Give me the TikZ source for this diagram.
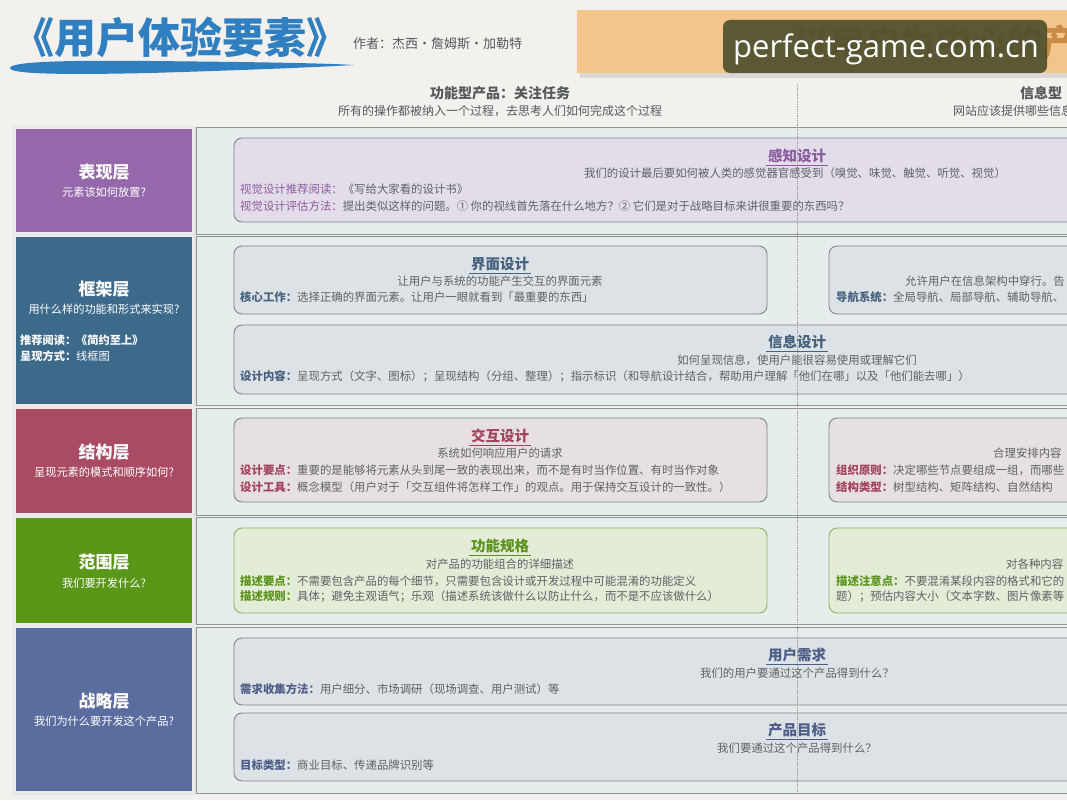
\documentclass[tikz,border=0pt]{standalone}
\usepackage{fontspec}
\setmainfont{Noto Sans CJK SC}
\newfontfamily\wmfont{Open Sans}
\newcommand{\myfs}[1]{\fontsize{#1}{#1}\selectfont}
\definecolor{bg}{HTML}{F3F1EE}
\definecolor{ttlblue}{HTML}{2F7FC1}
\definecolor{banner}{HTML}{F1C58B}
\definecolor{bannertxt}{HTML}{C98B45}
\definecolor{wm}{HTML}{4A4E2B}
\definecolor{cPur}{HTML}{9567AB}
\definecolor{cSteel}{HTML}{3D6A8B}
\definecolor{cRasp}{HTML}{A84B63}
\definecolor{cGreen}{HTML}{5A9618}
\definecolor{cSlate}{HTML}{5B6D9F}
\definecolor{band}{HTML}{E5EDED}
\definecolor{bandline}{HTML}{8C9494}
\definecolor{pPur}{HTML}{E3DDEA}
\definecolor{pGray}{HTML}{DDE2E6}
\definecolor{pPink}{HTML}{E7E0E3}
\definecolor{pGreen}{HTML}{E3ECD6}
\definecolor{txt}{HTML}{5E6266}
\definecolor{panelline}{HTML}{7D8486}
\definecolor{tPur}{HTML}{8A5C9E}
\definecolor{tSteel}{HTML}{46627F}
\definecolor{tRasp}{HTML}{A2435C}
\definecolor{tGreen}{HTML}{5A931C}
\definecolor{tSlate}{HTML}{4E5E88}
\definecolor{hdr}{HTML}{55595C}
\tikzset{
  layerbox/.style={draw=white!85!gray, line width=1.5pt},
  layername/.style={text=white, font=\myfs{17}\bfseries, inner sep=0pt},
  layersub/.style={text=white, font=\myfs{11.2}, inner sep=0pt},
  bandbox/.style={fill=band, draw=bandline, line width=1pt},
  panel/.style={draw=panelline, line width=0.9pt, rounded corners=8pt},
  ptitle/.style={font=\myfs{14.5}\bfseries, inner sep=1.8pt},
  pline/.style={anchor=west, font=\myfs{11.4}, text=txt, inner sep=0pt},
  pcenter/.style={font=\myfs{11.4}, text=txt, inner sep=0pt},
}
\begin{document}
\begin{tikzpicture}[x=1pt,y=-1pt]
\useasboundingbox (0,0) rectangle (1067,800);
\clip (0,0) rectangle (1067,800);
\fill[bg] (0,0) rectangle (1067,800);

% title
\node[anchor=west, text=ttlblue, font=\myfs{42}\bfseries, inner sep=0pt] (title) at (12,37) {《用户体验要素》};
\node[anchor=west, text=hdr, font=\myfs{13}, inner sep=0pt] (author) at (353,44) {作者：杰西·詹姆斯·加勒特};
\fill[ttlblue] (10,68) .. controls (10,62) and (60,60) .. (150,61) .. controls (250,62) and (320,63) .. (354,65) .. controls (320,67) and (250,70) .. (150,73) .. controls (60,75) and (10,74) .. (10,68) -- cycle;

% banner
\fill[black, opacity=0.10] (580,14) rectangle (1067,78);
\fill[banner] (577,10) rectangle (1067,73);
\node[anchor=west, text=bannertxt, font=\myfs{35.5}\bfseries, inner sep=0pt] (bantxt) at (794,42) {以用户为中心的产};
\fill[wm, opacity=0.9, rounded corners=7pt] (723,20) rectangle (1047,73);
\node[text=white, font=\wmfont\myfs{31}, inner sep=0pt] (wmtxt) at (886,49) {perfect-game.com.cn};

% header
\node[text=hdr, font=\myfs{14}\bfseries, inner sep=0pt] (h1) at (500,93) {功能型产品：关注任务};
\node[text=hdr, font=\myfs{12}, inner sep=0pt] (h1s) at (500,111) {所有的操作都被纳入一个过程，去思考人们如何完成这个过程};
\node[anchor=west, text=hdr, font=\myfs{14}\bfseries, inner sep=0pt] (h2) at (1020,93) {信息型};
\node[anchor=west, text=hdr, font=\myfs{12}, inner sep=0pt] (h2s) at (953,111) {网站应该提供哪些信息};

% bands
\draw[bandbox] (196,127) rectangle (1070,234);
\draw[bandbox] (196,236) rectangle (1070,405);
\draw[bandbox] (196,408) rectangle (1070,515);
\draw[bandbox] (196,517) rectangle (1070,624);
\draw[bandbox] (196,627) rectangle (1070,793);

% layer boxes
\fill[white!80!gray] (13,126) rectangle (196,795);
\draw[layerbox, fill=cPur]   (15,128) rectangle (193,233);
\draw[layerbox, fill=cSteel] (15,236) rectangle (193,405);
\draw[layerbox, fill=cRasp]  (15,408) rectangle (193,514);
\draw[layerbox, fill=cGreen] (15,517) rectangle (193,624);
\draw[layerbox, fill=cSlate] (15,627) rectangle (193,792);

\node[layername] (n1) at (104,172) {表现层};
\node[layersub]  (s1) at (104,192) {元素该如何放置?};
\node[layername] (n2) at (104,289) {框架层};
\node[layersub]  (s2) at (104,309) {用什么样的功能和形式来实现?};
\node[layersub, anchor=west] (r2a) at (20,340) {\bfseries 推荐阅读：《简约至上》};
\node[layersub, anchor=west] (r2b) at (20,356) {\bfseries 呈现方式：\mdseries 线框图};
\node[layername] (n3) at (104,452) {结构层};
\node[layersub]  (s3) at (104,472) {呈现元素的模式和顺序如何?};
\node[layername] (n4) at (104,562) {范围层};
\node[layersub]  (s4) at (104,583) {我们要开发什么?};
\node[layername] (n5) at (104,701) {战略层};
\node[layersub]  (s5) at (104,721) {我们为什么要开发这个产品?};

% panels
\draw[panel, fill=pPur]   (234,138) rectangle (1090,222);
\draw[panel, fill=pGray]  (234,246) rectangle (767,314);
\draw[panel, fill=pGray]  (829,246) rectangle (1090,314);
\draw[panel, fill=pGray]  (234,325) rectangle (1090,394);
\draw[panel, fill=pPink]  (234,418) rectangle (767,502);
\draw[panel, fill=pPink]  (829,418) rectangle (1090,502);
\draw[panel, fill=pGreen, draw=tGreen!70] (234,528) rectangle (767,613);
\draw[panel, fill=pGreen, draw=tGreen!70] (829,528) rectangle (1090,613);
\draw[panel, fill=pGray]  (234,638) rectangle (1090,705);
\draw[panel, fill=pGray]  (234,713) rectangle (1090,781);

% divider
\coordinate (vt) at (797,84);
\coordinate (vb) at (797,794);
\draw[densely dotted, gray!80, line width=0.8pt] (vt) -- (vb);

% row 1
\node[ptitle, text=tPur] (t1) at (797,156) {感知设计};
\draw[tPur, line width=0.8pt] (t1.south west) -- (t1.south east);
\node[pcenter] (c1) at (795,173) {我们的设计最后要如何被人类的感觉器官感受到（嗅觉、味觉、触觉、听觉、视觉）};
\node[pline] (l1a) at (240,189) {\textcolor{tPur}{视觉设计推荐阅读：}《写给大家看的设计书》};
\node[pline] (l1b) at (240,206) {\textcolor{tPur}{视觉设计评估方法：}提出类似这样的问题。① 你的视线首先落在什么地方？② 它们是对于战略目标来讲很重要的东西吗？};

% row 2
\node[ptitle, text=tSteel] (t2) at (500,264) {界面设计};
\draw[tSteel, line width=0.8pt] (t2.south west) -- (t2.south east);
\node[pcenter] (c2) at (500,281) {让用户与系统的功能产生交互的界面元素};
\node[pline] (l2a) at (240,297) {\textcolor{tSteel}{\bfseries 核心工作：}选择正确的界面元素。让用户一眼就看到「最重要的东西」};
\node[pline] (c2r) at (905,281) {允许用户在信息架构中穿行。告};
\node[pline] (l2r) at (836,297) {\textcolor{tSteel}{\bfseries 导航系统：}全局导航、局部导航、辅助导航、};
\node[ptitle, text=tSteel] (t3) at (797,342) {信息设计};
\draw[tSteel, line width=0.8pt] (t3.south west) -- (t3.south east);
\node[pcenter] (c3) at (797,360) {如何呈现信息，使用户能很容易使用或理解它们};
\node[pline] (l3a) at (240,376) {\textcolor{tSteel}{\bfseries 设计内容：}呈现方式（文字、图标）；呈现结构（分组、整理）；指示标识（和导航设计结合，帮助用户理解「他们在哪」以及「他们能去哪」）};

% row 3
\node[ptitle, text=tRasp] (t4) at (500,436) {交互设计};
\draw[tRasp, line width=0.8pt] (t4.south west) -- (t4.south east);
\node[pcenter] (c4) at (500,453) {系统如何响应用户的请求};
\node[pline] (l4a) at (240,470) {\textcolor{tRasp}{\bfseries 设计要点：}重要的是能够将元素从头到尾一致的表现出来，而不是有时当作位置、有时当作对象};
\node[pline] (l4b) at (240,487) {\textcolor{tRasp}{\bfseries 设计工具：}概念模型（用户对于「交互组件将怎样工作」的观点。用于保持交互设计的一致性。）};
\node[pline] (c4r) at (993,453) {合理安排内容};
\node[pline] (l4r) at (836,470) {\textcolor{tRasp}{\bfseries 组织原则：}决定哪些节点要组成一组，而哪些};
\node[pline] (l4s) at (836,487) {\textcolor{tRasp}{\bfseries 结构类型：}树型结构、矩阵结构、自然结构};

% row 4
\node[ptitle, text=tGreen] (t5) at (500,546) {功能规格};
\draw[tGreen, line width=0.8pt] (t5.south west) -- (t5.south east);
\node[pcenter] (c5) at (500,564) {对产品的功能组合的详细描述};
\node[pline] (l5a) at (240,581) {\textcolor{tGreen}{\bfseries 描述要点：}不需要包含产品的每个细节，只需要包含设计或开发过程中可能混淆的功能定义};
\node[pline] (l5b) at (240,597) {\textcolor{tGreen}{\bfseries 描述规则：}具体；避免主观语气；乐观（描述系统该做什么以防止什么，而不是不应该做什么）};
\node[pline] (c5r) at (1006,564) {对各种内容};
\node[pline] (l5r) at (836,581) {\textcolor{tGreen}{\bfseries 描述注意点：}不要混淆某段内容的格式和它的};
\node[pline] (l5s) at (836,597) {题）；预估内容大小（文本字数、图片像素等};

% row 5
\node[ptitle, text=tSlate] (t6) at (797,655) {用户需求};
\draw[tSlate, line width=0.8pt] (t6.south west) -- (t6.south east);
\node[pcenter] (c6) at (797,673) {我们的用户要通过这个产品得到什么？};
\node[pline] (l6a) at (240,689) {\textcolor{tSlate}{\bfseries 需求收集方法：}用户细分、市场调研（现场调查、用户测试）等};
\node[ptitle, text=tSlate] (t7) at (797,730) {产品目标};
\draw[tSlate, line width=0.8pt] (t7.south west) -- (t7.south east);
\node[pcenter] (c7) at (797,748) {我们要通过这个产品得到什么？};
\node[pline] (l7a) at (240,765) {\textcolor{tSlate}{\bfseries 目标类型：}商业目标、传递品牌识别等};
\end{tikzpicture}
\end{document}
